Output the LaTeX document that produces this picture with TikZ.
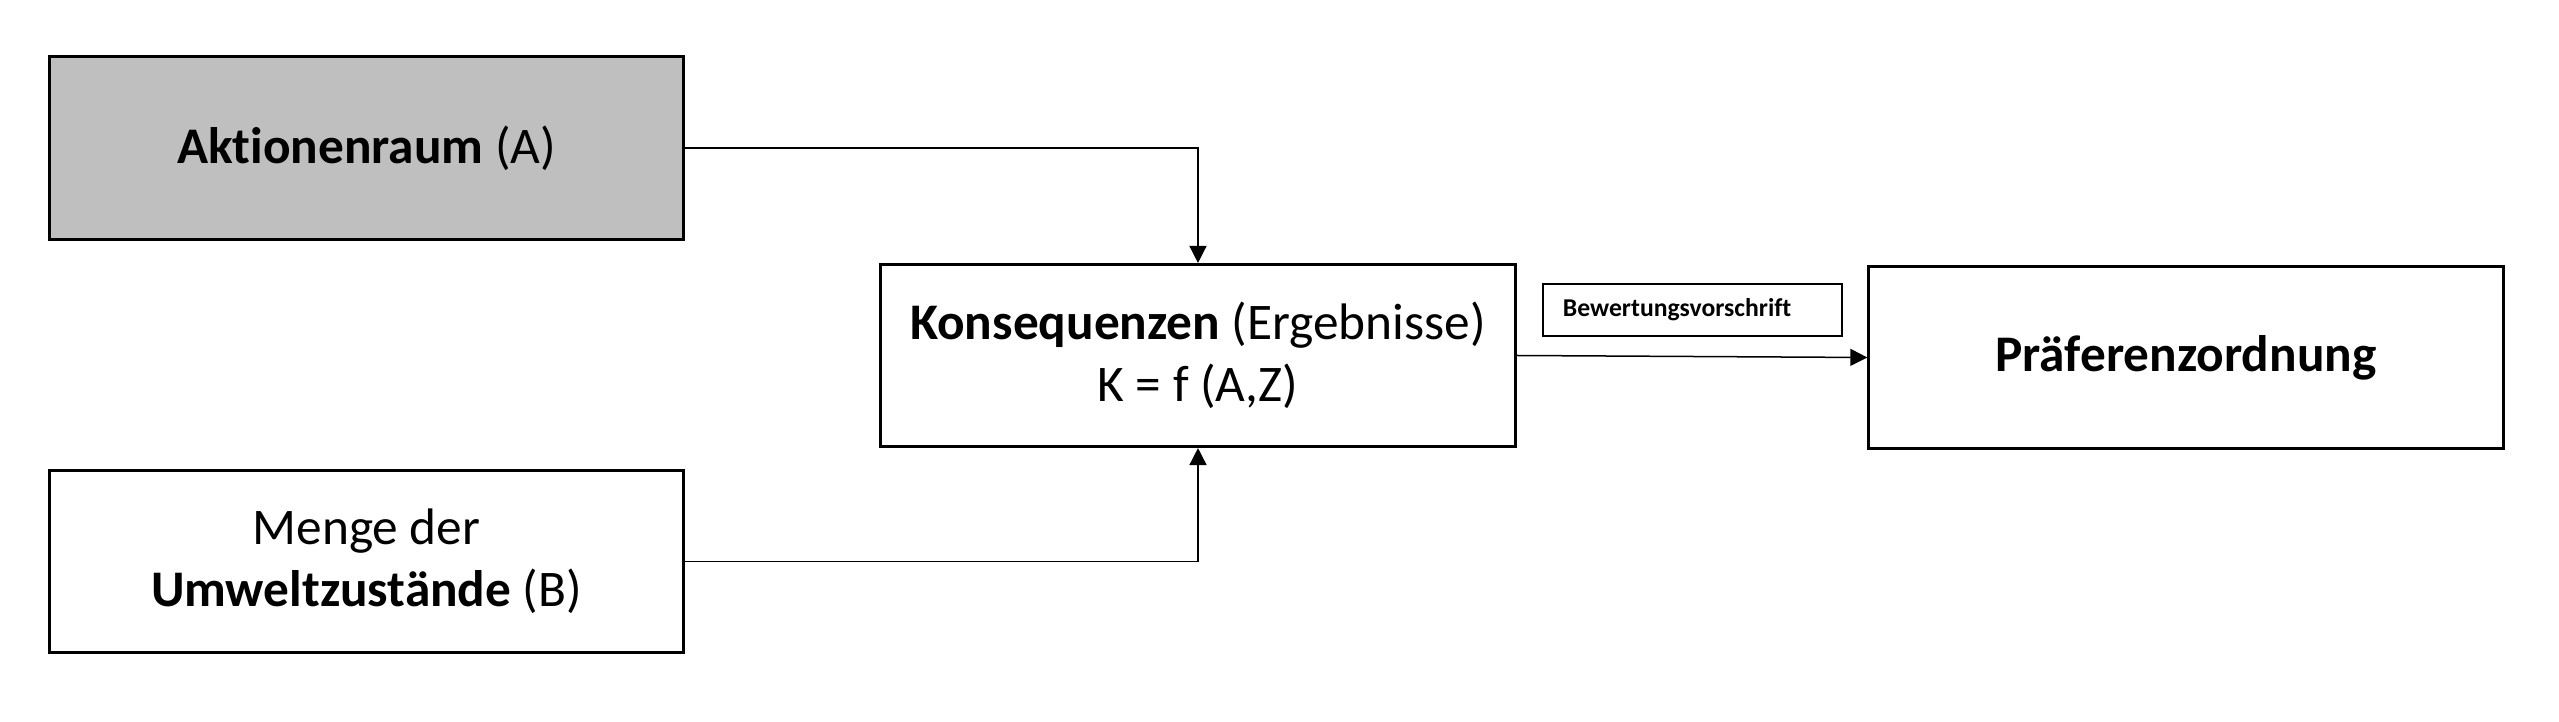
\documentclass[tikz,border=0pt]{standalone}
\usepackage{fontspec}
\setmainfont{Carlito}[Ligatures={NoCommon,TeX}]
\usetikzlibrary{arrows.meta}
\definecolor{boxgray}{HTML}{BFBFBF}
\begin{document}
\begin{tikzpicture}[x=0.01cm,y=-0.01cm,
  mainbox/.style={draw=black,line width=0.03cm,rectangle,inner sep=0pt,
    minimum width=6.34cm,minimum height=1.82cm,align=center,
    font=\fontsize{14.6}{17.5}\selectfont},
  tagbox/.style={draw=black,line width=0.02cm,rectangle,inner sep=0pt,
    text width=2.99cm,minimum height=0.52cm,align=left,
    font=\fontsize{7.3}{9}\selectfont\bfseries},
  conn/.style={draw=black,line width=0.015cm,
    -{Triangle[length=0.17cm,width=0.17cm]}}]
\useasboundingbox (0,0) rectangle (2559,722);
\node[mainbox,fill=boxgray] (A) at (366.5,148) {\textbf{Aktionenraum} (A)};
\node[mainbox] (B) at (366.5,561.5) {Menge der\\\textbf{Umweltzustände} (B)};
\node[mainbox] (K) at (1198,355.5) {\textbf{Konsequenzen} (Ergebnisse)\\K = f (A,Z)};
\node[mainbox] (P) at (2186,357.5) {\textbf{Präferenzordnung}};
\node[tagbox] (T) at (1692.5,310) {\hspace*{0.2cm}Bewertungsvorschrift};
\draw[conn] (A.east) -| (K.north);
\draw[conn] (B.east) -| (K.south);
\draw[conn] (K.east) -- (P.west);
\end{tikzpicture}
\end{document}
